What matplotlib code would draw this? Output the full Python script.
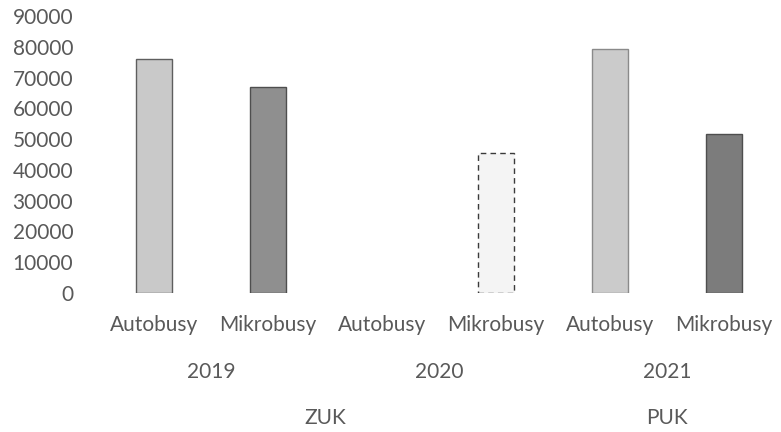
import matplotlib.pyplot as plt

CATEGORIES = ["Autobusy", "Mikrobusy", "Autobusy", "Mikrobusy", "Autobusy", "Mikrobusy"]
YEARS = ["2019", "2020", "2021"]
GROUPS = ["ZUK", "PUK"]
GROUP_SPANS = [(0, 3), (4, 5)]  # first and last category index of each group
VALUES = [76000, 67000, 0, 45500, 79200, 51600]

FILL_COLORS = ["#c9c9c9", "#8f8f8f", "#c9c9c9", "#f4f4f4", "#cbcbcb", "#7c7c7c"]
EDGE_COLORS = ["#5e5e5e", "#4e4e4e", "#5e5e5e", "#3a3a3a", "#8a8a8a", "#4e4e4e"]
LINE_STYLES = ["solid", "solid", "solid", (0, (4, 3)), "solid", "solid"]
TEXT_COLOR = "#595959"
FONT = "Lato"

plt.rcParams["font.family"] = [FONT, "DejaVu Sans"]

fig = plt.figure(figsize=(7.81, 4.32), dpi=100)
ax = fig.add_axes([0.124, 0.322, 0.876, 0.641])

x = list(range(len(CATEGORIES)))
bars = ax.bar(x, VALUES, width=0.31, color=FILL_COLORS, edgecolor=EDGE_COLORS, linewidth=1.0)
for bar, ls, val in zip(bars, LINE_STYLES, VALUES):
    bar.set_linestyle(ls)
    if val == 0:
        bar.set_visible(False)

ax.set_xlim(-0.5, len(CATEGORIES) - 0.5)
ax.set_ylim(0, 90000)
ax.set_yticks(range(0, 90001, 10000))
ax.set_yticklabels([str(v) for v in range(0, 90001, 10000)], fontsize=15, color=TEXT_COLOR)
ax.tick_params(axis="y", length=0, pad=17)
ax.set_xticks([])
for spine in ax.spines.values():
    spine.set_visible(False)

trans = ax.get_xaxis_transform()
for i, cat in enumerate(CATEGORIES):
    ax.text(i, -0.116, cat, transform=trans, ha="center", va="center",
            fontsize=15, color=TEXT_COLOR)
for j, year in enumerate(YEARS):
    ax.text(2 * j + 0.5, -0.285, year, transform=trans, ha="center", va="center",
            fontsize=15, color=TEXT_COLOR)
for name, (a, b) in zip(GROUPS, GROUP_SPANS):
    ax.text((a + b) / 2, -0.451, name, transform=trans, ha="center", va="center",
            fontsize=15, color=TEXT_COLOR)

fig.savefig("out.png", dpi=100, facecolor="white")
